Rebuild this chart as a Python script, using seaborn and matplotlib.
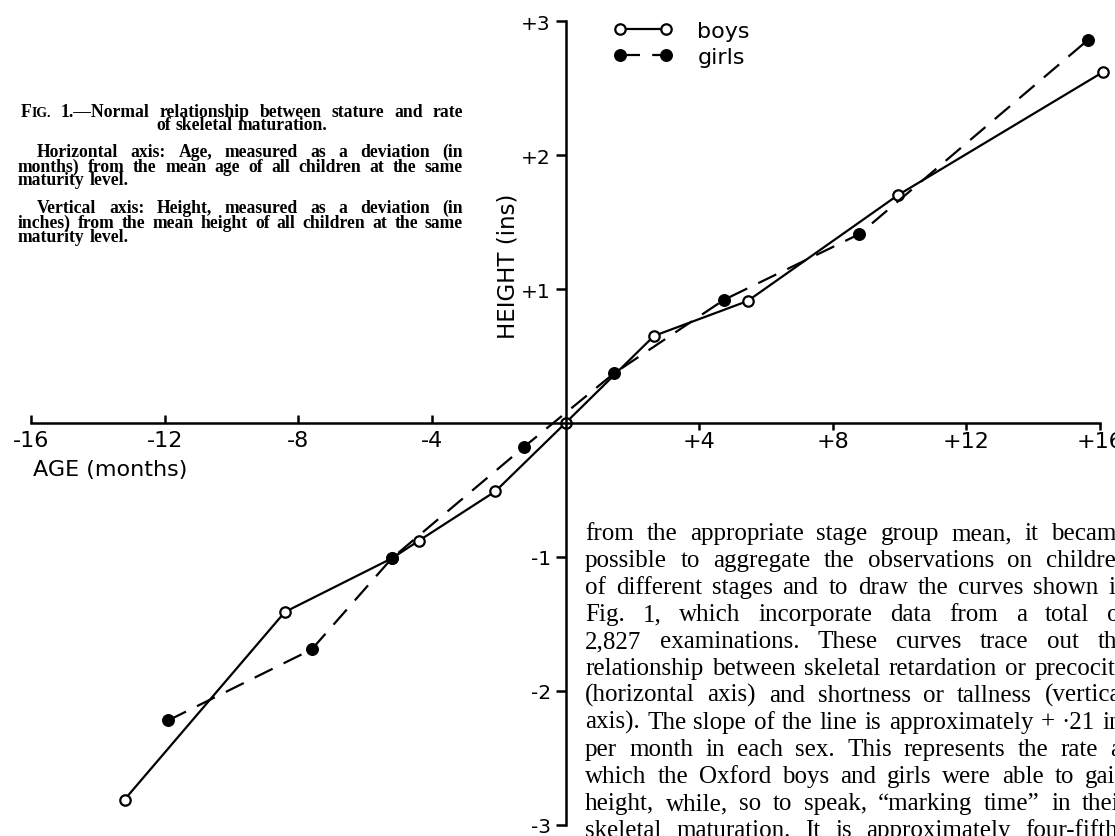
import matplotlib
matplotlib.use("Agg")
import matplotlib.pyplot as plt
import seaborn as sns
import pandas as pd
from matplotlib.ticker import FixedLocator, FixedFormatter

# ---- data ----
boys_age = [-13.2, -8.4, -5.2, -4.4, -2.1, 0.0, 2.65, 5.45, 9.95, 16.1]
boys_height = [-2.81, -1.41, -1.01, -0.88, -0.51, 0.0, 0.65, 0.91, 1.70, 2.62]
girls_age = [-11.9, -7.6, -5.2, -1.25, 1.45, 4.75, 8.8, 15.65]
girls_height = [-2.22, -1.69, -1.01, -0.18, 0.37, 0.92, 1.41, 2.86]

x_ticks_neg = [-16, -12, -8, -4]
x_labels_neg = ["-16", "-12", "-8", "-4"]
x_ticks_pos = [4, 8, 12, 16]
x_labels_pos = ["+4", "+8", "+12", "+16"]
y_ticks = [-3, -2, -1, 1, 2, 3]
y_labels = ["-3", "-2", "-1", "+1", "+2", "+3"]

caption_lines = [
    ([[("F", 1.0), ("IG.", 0.78)], "1.\u2014Normal", "relationship", "between", "stature", "and", "rate"], 21, 463, 117, "justify"),
    (["of", "skeletal", "maturation."], 21, 463, 130.5, "center"),
    (["Horizontal", "axis:", "Age,", "measured", "as", "a", "deviation", "(in"], 37, 463, 157, "justify"),
    (["months)", "from", "the", "mean", "age", "of", "all", "children", "at", "the", "same"], 18, 463, 171.5, "justify"),
    (["maturity", "level."], 18, 463, 185, "left"),
    (["Vertical", "axis:", "Height,", "measured", "as", "a", "deviation", "(in"], 37, 463, 213, "justify"),
    (["inches)", "from", "the", "mean", "height", "of", "all", "children", "at", "the", "same"], 18, 463, 227.5, "justify"),
    (["maturity", "level."], 18, 463, 241.5, "left"),
]

body_lines = [
    "from the appropriate stage group mean, it became",
    "possible to aggregate the observations on children",
    "of different stages and to draw the curves shown in",
    "Fig. 1, which incorporate data from a total of",
    "2,827 examinations. These curves trace out the",
    "relationship between skeletal retardation or precocity",
    "(horizontal axis) and shortness or tallness (vertical",
    "axis). The slope of the line is approximately + \u00b721 in.",
    "per month in each sex. This represents the rate at",
    "which the Oxford boys and girls were able to gain",
    "height, while, so to speak, \u201cmarking time\u201d in their",
    "skeletal maturation. It is approximately four-fifths",
]

# ---- style ----
sns.set_style("ticks")
plt.rcParams.update({
    "axes.edgecolor": "black", "text.color": "black", "xtick.color": "black",
    "ytick.color": "black", "axes.labelcolor": "black",
})
plt.rcParams["font.family"] = ["DejaVu Sans"]

W, H = 1115, 837
fig = plt.figure(figsize=(W / 100, H / 100), dpi=100)
ax = fig.add_axes([0, 0, 1, 1])
ax.set_facecolor("none")

df_b = pd.DataFrame({"age": boys_age, "height": boys_height})
df_g = pd.DataFrame({"age": girls_age, "height": girls_height})

sns.lineplot(data=df_b, x="age", y="height", sort=False, estimator=None, ax=ax,
             color="black", linewidth=1.6, marker="o", markersize=7.5,
             markerfacecolor="white", markeredgecolor="black", markeredgewidth=1.6)
sns.lineplot(data=df_g, x="age", y="height", sort=False, estimator=None, ax=ax,
             color="black", linewidth=1.6, linestyle=(0, (9, 5.5)), marker="o",
             markersize=8.5, markerfacecolor="black", markeredgecolor="black",
             markeredgewidth=0.8)
boys_line, girls_line = ax.lines[0], ax.lines[1]

ax.set_xlim(-565.5 / 33.4, (W - 565.5) / 33.4)
ax.set_ylim(-(H - 424) / 134.0, 424 / 134.0)

for s in ["top", "right"]:
    ax.spines[s].set_visible(False)
ax.spines["left"].set_position(("data", 0))
ax.spines["bottom"].set_position(("data", 0))
ax.spines["left"].set_bounds(-3, 3)
ax.spines["bottom"].set_bounds(-16, 16)
for s in ["left", "bottom"]:
    ax.spines[s].set_linewidth(1.8)
    ax.spines[s].set_color("black")

ax.xaxis.set_major_locator(FixedLocator(x_ticks_neg))
ax.xaxis.set_major_formatter(FixedFormatter(x_labels_neg))
ax.xaxis.set_minor_locator(FixedLocator(x_ticks_pos))
ax.xaxis.set_minor_formatter(FixedFormatter(x_labels_pos))
ax.tick_params(axis="x", which="major", direction="in", length=6, width=1.8,
               pad=4.7, labelsize=16, bottom=True)
ax.tick_params(axis="x", which="minor", direction="out", length=5, width=1.8,
               pad=0.5, labelsize=16, bottom=True, labelbottom=True)
ax.set_yticks(y_ticks)
ax.set_yticklabels(y_labels)
ax.tick_params(axis="y", which="major", direction="out", length=7, width=1.8,
               pad=3.5, labelsize=14.5, left=True)

ax.set_xlabel("AGE (months)", fontsize=16, ha="left", va="center")
ax.xaxis.set_label_coords(33 / W, 1 - 470 / H)
ax.set_ylabel("HEIGHT (ins)", fontsize=16.5, ha="center", va="center")
ax.yaxis.set_label_coords(508 / W, 1 - 266 / H)

ax.legend([boys_line, girls_line], ["boys", "girls"], numpoints=2,
          handlelength=2.7, handletextpad=1.1, labelspacing=0.27, frameon=False,
          fontsize=16, loc="upper left", bbox_to_anchor=(613 / W, 1 - 22 / H),
          bbox_transform=fig.transFigure, borderpad=0, borderaxespad=0)

# ---- justified text blocks ----
renderer = fig.canvas.get_renderer()


def place_line(words, left, right, base, size, family, weight="normal", mode="justify"):
    items = []
    for w in words:
        segs = w if isinstance(w, list) else [(w, 1.0)]
        parts = []
        total = 0.0
        for s, sc in segs:
            t = fig.text(0, 0, s, fontsize=size * sc, family=family, weight=weight,
                         ha="left", va="baseline")
            wd = t.get_window_extent(renderer).width
            parts.append((t, wd))
            total += wd
        items.append((parts, total))
    em = size * 100 / 72
    wsum = sum(tot for _, tot in items)
    n = len(items)
    if mode == "justify" and n > 1:
        gap = max((right - left - wsum) / (n - 1), 0.12 * em)
    else:
        gap = 0.25 * em
    if mode == "center":
        x = (left + right) / 2 - (wsum + gap * (n - 1)) / 2
    else:
        x = left
    for parts, tot in items:
        for t, wd in parts:
            t.set_position((x / W, 1 - base / H))
            x += wd
        x += gap


for words, l, r, base, mode in caption_lines:
    place_line(words, l, r, base, 12.7, "Liberation Serif", weight="bold", mode=mode)

for i, line in enumerate(body_lines):
    place_line(line.split(), 585, 1128, 540 + 27 * i, 18, "Liberation Serif", mode="justify")

fig.savefig("out.png", dpi=100)
